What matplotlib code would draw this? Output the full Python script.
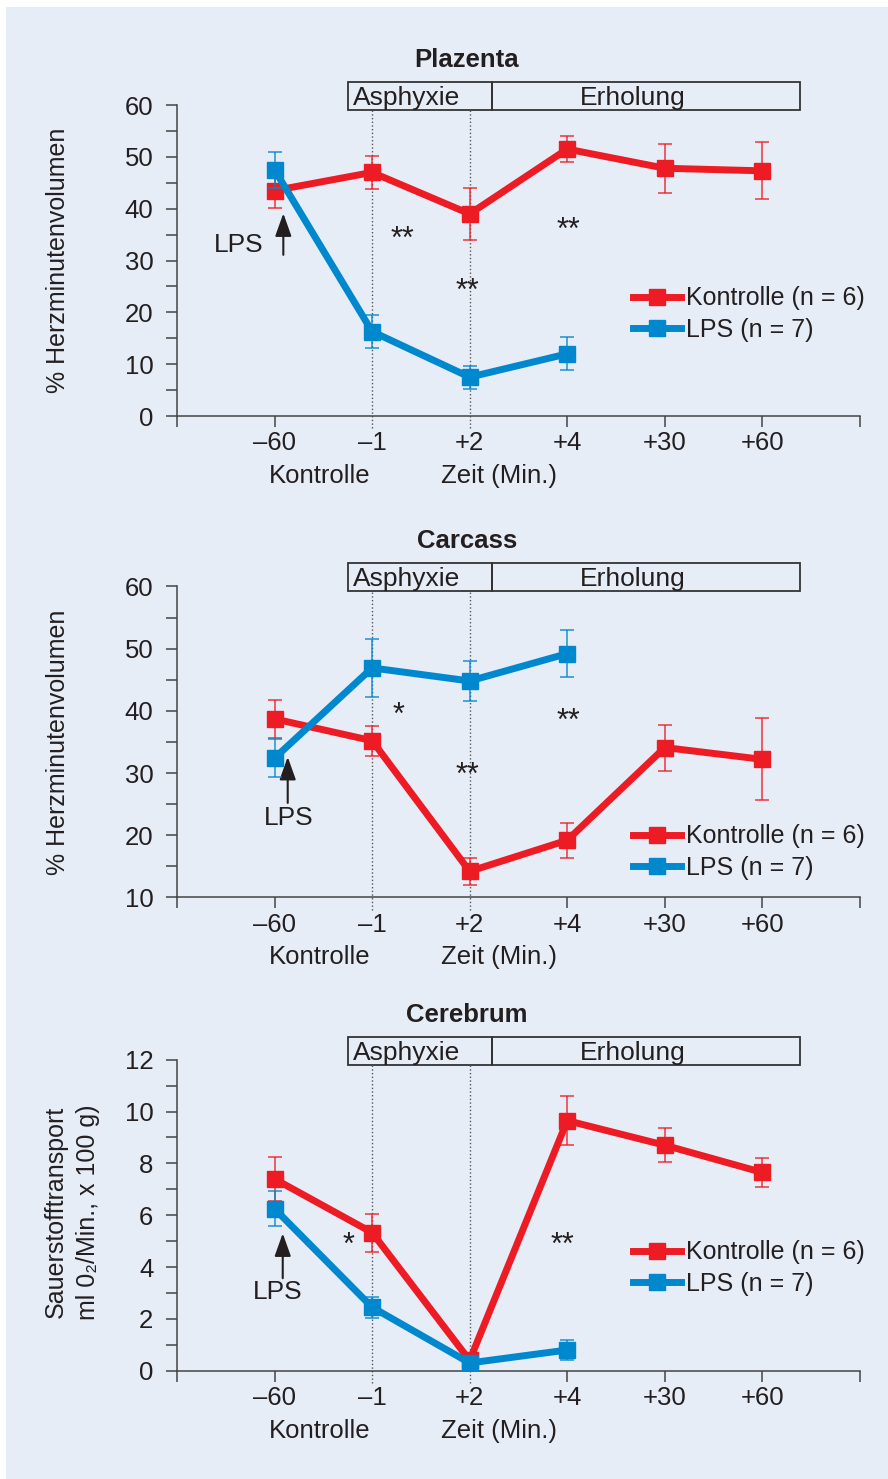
import numpy as np
import matplotlib
matplotlib.use('Agg')
import matplotlib.pyplot as plt
from matplotlib.patches import Rectangle
from matplotlib.lines import Line2D
from matplotlib.transforms import blended_transform_factory

plt.rcParams['font.family'] = ['Liberation Sans Narrow', 'Liberation Sans', 'DejaVu Sans']

# time points (categorical x axis)
x_labels = ['–60', '–1', '+2', '+4', '+30', '+60']

# Plazenta (% Herzminutenvolumen)
plaz_ctrl = [43.5, 47.0, 39.0, 51.5, 47.8, 47.3]
plaz_ctrl_err = [3.3, 3.2, 5.0, 2.5, 4.7, 5.5]
plaz_lps = [47.5, 16.3, 7.5, 12.0]
plaz_lps_err = [3.5, 3.2, 2.2, 3.2]

# Carcass (% Herzminutenvolumen)
carc_ctrl = [38.7, 35.2, 14.2, 19.2, 34.1, 32.2]
carc_ctrl_err = [3.0, 2.4, 2.2, 2.8, 3.7, 6.6]
carc_lps = [32.4, 46.9, 44.8, 49.2]
carc_lps_err = [3.1, 4.6, 3.2, 3.8]

# Cerebrum (Sauerstofftransport)
cere_ctrl = [7.4, 5.33, 0.4, 9.65, 8.7, 7.65]
cere_ctrl_err = [0.85, 0.73, 0.1, 0.95, 0.65, 0.57]
cere_lps = [6.25, 2.45, 0.3, 0.8]
cere_lps_err = [0.68, 0.4, 0.1, 0.37]

RED = '#ed1c24'
BLUE = '#0088cf'
TXT = '#231f20'
AX = '#444444'
BG = '#e7edf7'

fig = plt.figure(figsize=(8.88, 14.79), dpi=100)
fig.patch.set_facecolor('white')
fig.add_artist(Rectangle((0.007, 0), 1.0, 0.9953, transform=fig.transFigure,
                         facecolor=BG, edgecolor='none', zorder=-10))

W = 0.7691
L = 0.1993
H = 0.2103


def panel(bottom, title, ctrl, ctrl_err, lps, lps_err, ylim, major, minor,
          stars, lps_text, lps_arrow, leg_y):
    ax = fig.add_axes([L, bottom, W, H])
    ax.set_facecolor('none')
    blend = blended_transform_factory(ax.transData, ax.transAxes)

    xc = np.arange(1, len(ctrl) + 1)
    xl = np.arange(1, len(lps) + 1)
    ax.errorbar(xc, ctrl, yerr=ctrl_err, color=RED, lw=5, marker='s', ms=11,
                ecolor=(0.93, 0.11, 0.14, 0.75), elinewidth=1.3, capsize=5,
                capthick=1.3, zorder=3)
    ax.errorbar(xl, lps, yerr=lps_err, color=BLUE, lw=5, marker='s', ms=11,
                ecolor=(0.0, 0.53, 0.81, 0.75), elinewidth=1.3, capsize=5,
                capthick=1.3, zorder=4)

    ax.set_xlim(0, 7)
    ax.set_ylim(*ylim)
    ax.set_xticks(range(8))
    ax.set_xticklabels([''] + x_labels + [''])
    ax.set_yticks(np.arange(ylim[0], ylim[1] + 0.01, major))
    ax.set_yticks(np.arange(ylim[0], ylim[1] + 0.01, minor), minor=True)
    ax.tick_params(axis='both', which='both', direction='out', length=8,
                   width=1.1, color=AX, labelcolor=TXT, labelsize=18.5)
    ax.tick_params(axis='y', which='major', pad=9)
    ax.tick_params(axis='x', which='major', pad=3)
    for i in (2, 3):
        ax.xaxis.get_major_ticks()[i].tick1line.set_visible(False)
    for s in ('top', 'right'):
        ax.spines[s].set_visible(False)
    for s in ('left', 'bottom'):
        ax.spines[s].set_color(AX)
        ax.spines[s].set_linewidth(1.1)

    # phase box
    ax.add_patch(Rectangle((1.754, 0.984), 3.231 - 1.754, 0.09, transform=blend,
                           fill=False, ec='#333333', lw=1.3, clip_on=False))
    ax.add_patch(Rectangle((3.231, 0.984), 6.39 - 3.231, 0.09, transform=blend,
                           fill=False, ec='#333333', lw=1.3, clip_on=False))
    ax.text(2.35, 1.0, 'Asphyxie', transform=blend, ha='center', va='baseline',
            fontsize=19, color=TXT)
    ax.text(4.667, 1.0, 'Erholung', transform=blend, ha='center', va='baseline',
            fontsize=19, color=TXT)
    for xv in (2, 3):
        ax.plot([xv, xv], [-0.039, 0.984], transform=blend, ls=':', lw=1,
                color='#555555', clip_on=False, zorder=1)

    ax.text(2.97, 1.122, title, transform=blend, ha='center', va='baseline',
            fontsize=18.5, fontweight='bold', color=TXT)

    ax.text(1.46, -0.215, 'Kontrolle', transform=blend, ha='center',
            va='baseline', fontsize=18.5, color=TXT)
    ax.text(3.30, -0.215, 'Zeit (Min.)', transform=blend, ha='center',
            va='baseline', fontsize=18.5, color=TXT)

    for sx, sy, s in stars:
        ax.text(sx, sy, s, transform=blend, ha='center', va='center',
                fontsize=22, color=TXT)

    ax.text(lps_text[0], lps_text[1], 'LPS', ha='center', va='center',
            fontsize=19, color=TXT)
    ax.annotate('', xy=(lps_arrow[0], lps_arrow[2]),
                xytext=(lps_arrow[0], lps_arrow[1]),
                arrowprops=dict(arrowstyle='-|>,head_length=0.7,head_width=0.25',
                                color=TXT, lw=1.5, mutation_scale=20,
                                shrinkA=0, shrinkB=0))

    handles = [Line2D([], [], color=RED, lw=5, marker='s', ms=11),
               Line2D([], [], color=BLUE, lw=5, marker='s', ms=11)]
    ax.legend(handles, ['Kontrolle (n = 6)', 'LPS (n = 7)'], loc='center left',
              bbox_to_anchor=(0.668, leg_y), frameon=False, fontsize=18,
              handlelength=1.9, handletextpad=0.2, labelspacing=0.3,
              borderpad=0, borderaxespad=0, labelcolor=TXT)
    return ax


# star positions: x in data units, y in axes fraction
ax1 = panel(0.7187, 'Plazenta', plaz_ctrl, plaz_ctrl_err, plaz_lps, plaz_lps_err,
            (0, 60), 10, 5,
            [(2.31, 0.565, '**'), (2.98, 0.40, '**'), (4.01, 0.595, '**')],
            (0.63, 33.0), (1.09, 31.1, 39.1), 0.328)
ax1.text(-0.174, 0.5, '% Herzminutenvolumen', transform=ax1.transAxes,
         rotation=90, ha='center', va='center', fontsize=18, color=TXT)

ax2 = panel(0.3932, 'Carcass', carc_ctrl, carc_ctrl_err, carc_lps, carc_lps_err,
            (10, 60), 10, 5,
            [(2.27, 0.585, '*'), (2.98, 0.39, '**'), (4.01, 0.565, '**')],
            (1.14, 22.7), (1.135, 25.2, 32.6), 0.146)
ax2.text(-0.174, 0.5, '% Herzminutenvolumen', transform=ax2.transAxes,
         rotation=90, ha='center', va='center', fontsize=18, color=TXT)

ax3 = panel(0.0732, 'Cerebrum', cere_ctrl, cere_ctrl_err, cere_lps, cere_lps_err,
            (0, 12), 2, 1,
            [(1.76, 0.40, '*'), (3.95, 0.40, '**')],
            (1.03, 3.05), (1.084, 3.57, 5.3), 0.33)
ax3.text(-0.178, 0.51, 'Sauerstofftransport', transform=ax3.transAxes,
         rotation=90, ha='center', va='center', fontsize=18, color=TXT)
ax3.text(-0.130, 0.51, 'ml 0₂/Min., x 100 g)', transform=ax3.transAxes,
         rotation=90, ha='center', va='center', fontsize=18, color=TXT)

fig.savefig('out.png', dpi=100, facecolor=fig.get_facecolor())
